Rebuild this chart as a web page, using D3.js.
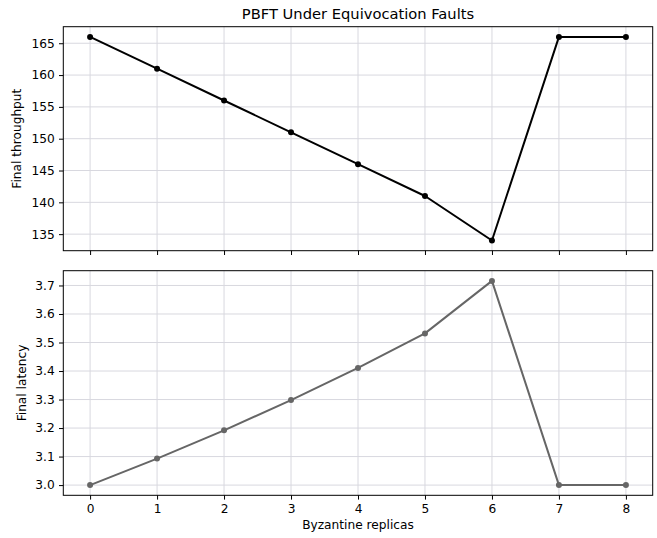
<!DOCTYPE html>
<html>
<head>
<meta charset="utf-8">
<script src="https://cdn.jsdelivr.net/npm/d3@7"></script>
<style>
  body { margin: 0; background: #fff; }
  text { font-family: "DejaVu Sans", sans-serif; fill: #000; }
</style>
</head>
<body>
<div id="chart"></div>
<script>
// data
let replicas = [0, 1, 2, 3, 4, 5, 6, 7, 8]
let throughput = [166, 161, 156, 151, 146, 141, 134, 166, 166]
let latency = [3.0, 3.093, 3.192, 3.298, 3.411, 3.532, 3.716, 3.0, 3.0]
let throughputTicks = [135, 140, 145, 150, 155, 160, 165]
let latencyTicks = [3.0, 3.1, 3.2, 3.3, 3.4, 3.5, 3.6, 3.7]

let width = 657, height = 538
let left = 63.3, right = 652.7

let svg = d3.select("#chart").append("svg")
    .attr("width", width)
    .attr("height", height)

let x = d3.scaleLinear().domain([-0.4, 8.4]).range([left, right])

// one panel
function panel(values, ticks, top, bottom, color, label, labelX, showX) {
    let lo = d3.min(values), hi = d3.max(values), pad = (hi - lo) * 0.05
    let y = d3.scaleLinear().domain([lo - pad, hi + pad]).range([bottom, top])
    let g = svg.append("g")

    // grid
    g.selectAll(".vg").data(replicas).join("line")
        .attr("x1", d => x(d)).attr("x2", d => x(d))
        .attr("y1", top).attr("y2", bottom)
        .attr("stroke", "#d8d8df").attr("stroke-width", 1)
    g.selectAll(".hg").data(ticks).join("line")
        .attr("x1", left).attr("x2", right)
        .attr("y1", d => y(d)).attr("y2", d => y(d))
        .attr("stroke", "#d8d8df").attr("stroke-width", 1)

    // line + markers
    let line = d3.line().x((d, i) => x(replicas[i])).y(d => y(d))
    g.append("path").datum(values)
        .attr("d", line)
        .attr("fill", "none")
        .attr("stroke", color)
        .attr("stroke-width", 2)
        .attr("stroke-linejoin", "round")
    g.selectAll("circle").data(values).join("circle")
        .attr("cx", (d, i) => x(replicas[i]))
        .attr("cy", d => y(d))
        .attr("r", 3)
        .attr("fill", color)

    // axes
    let yAxis = g.append("g")
        .attr("transform", `translate(${left},0)`)
        .call(d3.axisLeft(y).tickValues(ticks).tickSize(4.3).tickPadding(4.3).tickFormat(d3.format(ticks[0] < 10 ? ".1f" : "d")))
    let xAxis = g.append("g")
        .attr("transform", `translate(0,${bottom})`)
        .call(d3.axisBottom(x).tickValues(replicas).tickSize(4.3).tickPadding(4.3).tickFormat(showX ? d3.format("d") : ""))
    for (let a of [yAxis, xAxis]) {
        a.select(".domain").remove()
        a.selectAll("line").attr("stroke", "#000").attr("stroke-width", 1)
        a.selectAll("text").attr("font-size", 12.2).attr("fill", "#000")
            .attr("font-family", "DejaVu Sans, sans-serif")
    }

    // frame
    g.append("rect")
        .attr("x", left).attr("y", top)
        .attr("width", right - left).attr("height", bottom - top)
        .attr("fill", "none").attr("stroke", "#000").attr("stroke-width", 1)

    g.append("text")
        .attr("transform", `translate(${labelX},${(top + bottom) / 2}) rotate(-90)`)
        .attr("text-anchor", "middle")
        .attr("font-size", 12.2)
        .text(label)
}

panel(throughput, throughputTicks, 26.7, 250.7, "#000000", "Final throughput", 21, false)
panel(latency, latencyTicks, 270.7, 495.3, "#666666", "Final latency", 26, true)

svg.append("text")
    .attr("x", (left + right) / 2).attr("y", 19)
    .attr("text-anchor", "middle")
    .attr("font-size", 14.7)
    .text("PBFT Under Equivocation Faults")

svg.append("text")
    .attr("x", (left + right) / 2).attr("y", 529)
    .attr("text-anchor", "middle")
    .attr("font-size", 12.2)
    .text("Byzantine replicas")
</script>
</body>
</html>
